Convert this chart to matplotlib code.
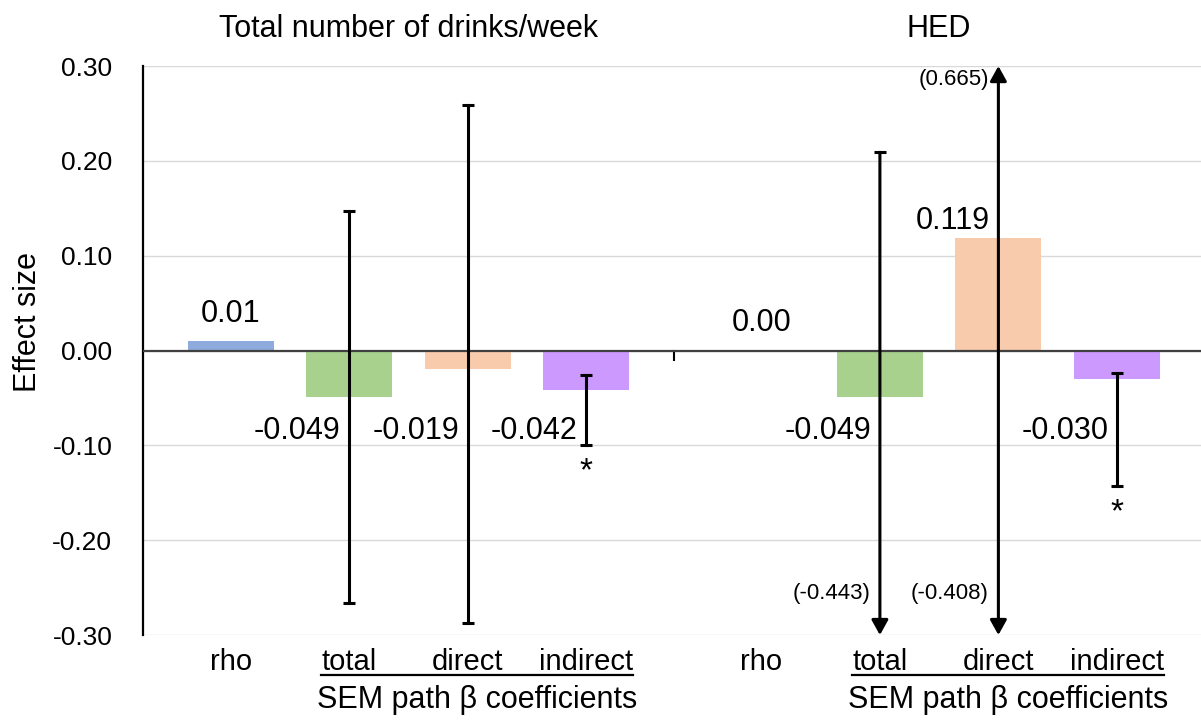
import matplotlib
matplotlib.use("Agg")
import matplotlib.pyplot as plt
import matplotlib.transforms as mtransforms
from matplotlib.lines import Line2D
import numpy as np

plt.rcParams['font.family'] = ['Liberation Sans Narrow', 'Liberation Sans', 'DejaVu Sans']

# Data
group_titles = ["Total number of drinks/week", "HED"]
categories = ["rho", "total", "direct", "indirect"]
effect_drinks = [0.01, -0.049, -0.019, -0.042]
effect_hed = [0.00, -0.049, 0.119, -0.030]
labels_drinks = ["0.01", "-0.049", "-0.019", "-0.042"]
labels_hed = ["0.00", "-0.049", "0.119", "-0.030"]
ci_low_drinks = [np.nan, -0.266, -0.287, -0.100]
ci_high_drinks = [np.nan, 0.147, 0.259, -0.026]
ci_low_hed = [np.nan, -0.443, -0.408, -0.143]
ci_high_hed = [np.nan, 0.209, 0.665, -0.024]
signif_drinks = [False, False, False, True]
signif_hed = [False, False, False, True]
colors = ["#8faadc", "#a9d18e", "#f8cbad", "#cc99ff"]
sem_label = "SEM path β coefficients"

YMIN, YMAX = -0.30, 0.30
GAP = 0.48
NEG_Y = -0.085
BIG = 22  # value labels, titles

groups = [
    (effect_drinks, labels_drinks, ci_low_drinks, ci_high_drinks, signif_drinks),
    (effect_hed, labels_hed, ci_low_hed, ci_high_hed, signif_hed),
]

fig = plt.figure(figsize=(12.01, 7.2), dpi=100)
ax = fig.add_axes([0.119, 0.118, 0.881, 0.7903])
blend = mtransforms.blended_transform_factory(ax.transData, ax.transAxes)

arrow_kw = dict(color='k', lw=2.2, shrinkA=0, shrinkB=0, mutation_scale=20)

all_pos = []
for g, (vals, labs, lo, hi, sig) in enumerate(groups):
    pos = np.arange(len(categories)) + g * (len(categories) + GAP)
    all_pos.append(pos)
    ax.bar(pos, vals, width=0.725, color=colors, zorder=2)

    for x, v, lab, l, h, s in zip(pos, vals, labs, lo, hi, sig):
        has_ci = not np.isnan(l)
        # error bars, with arrows where the interval runs off the axis
        if has_ci:
            lc, hc = max(l, YMIN), min(h, YMAX)
            if l < YMIN and h > YMAX:
                ax.annotate('', xy=(x, YMIN), xytext=(x, YMAX),
                            arrowprops=dict(arrowstyle='<|-|>,head_length=0.45,head_width=0.25', **arrow_kw),
                            zorder=4, annotation_clip=False)
            elif l < YMIN:
                ax.annotate('', xy=(x, YMIN), xytext=(x, hc),
                            arrowprops=dict(arrowstyle='-|>,head_length=0.45,head_width=0.25', **arrow_kw),
                            zorder=4, annotation_clip=False)
            elif h > YMAX:
                ax.annotate('', xy=(x, YMAX), xytext=(x, lc),
                            arrowprops=dict(arrowstyle='-|>,head_length=0.45,head_width=0.25', **arrow_kw),
                            zorder=4, annotation_clip=False)
            else:
                ax.plot([x, x], [l, h], color='k', lw=2.2, zorder=4)
            for end, clipped in ((l, l < YMIN), (h, h > YMAX)):
                if not clipped:
                    ax.plot(x, end, marker='_', ms=9, mew=2.2, color='k', zorder=4)
            if l < YMIN:
                ax.annotate(f"({l:.3f})", (x, YMIN), xytext=(-7, 22), textcoords='offset points',
                            ha='right', va='bottom', fontsize=16)
            if h > YMAX:
                ax.annotate(f"({h:.3f})", (x, YMAX), xytext=(-7, -2), textcoords='offset points',
                            ha='right', va='top', fontsize=16)
            if s:
                ax.annotate('*', (x, l), xytext=(0, -8), textcoords='offset points',
                            ha='center', va='top', fontsize=24)

        # value labels
        ha = 'right' if has_ci else 'center'
        dx = -6 if has_ci else 0
        if v < 0:
            ax.annotate(lab, (x, NEG_Y), xytext=(dx, 0), textcoords='offset points',
                        ha=ha, va='center', fontsize=BIG, zorder=5)
        else:
            dy = 6 if has_ci else 14
            ax.annotate(lab, (x, v), xytext=(dx, dy), textcoords='offset points',
                        ha=ha, va='baseline', fontsize=BIG, zorder=5)

    ax.text(pos.mean(), 1.065, group_titles[g], transform=blend,
            ha='center', va='center', fontsize=BIG)

all_pos = np.concatenate(all_pos)
sep = (all_pos[3] + all_pos[4]) / 2
ax.plot([sep, sep], [0, -0.01], color='k', lw=1.5, zorder=3)

ax.axhline(0, color='#404040', lw=1.6, zorder=3)
ax.set_xlim(-0.74, 8.19)
ax.set_ylim(YMIN, YMAX)
ax.set_yticks(np.arange(-3, 4) / 10)
ax.set_yticklabels([f"{t:.2f}" for t in np.arange(-3, 4) / 10])
ax.set_xticks(all_pos)
ax.set_xticklabels(categories * 2)
ax.tick_params(axis='y', length=0, pad=22, labelsize=19)
ax.tick_params(axis='x', length=0, pad=9, labelsize=21)
ax.yaxis.grid(True, color='#d9d9d9', lw=1)
ax.set_axisbelow(True)
for sp in ['top', 'right', 'bottom']:
    ax.spines[sp].set_visible(False)
ax.spines['left'].set_linewidth(1.6)
ax.spines['left'].set_color('k')
ax.set_ylabel("Effect size", fontsize=22)
ax.yaxis.set_label_coords(-0.094, 0.55)

# underline under the SEM path labels, then the caption below it
fig.canvas.draw()
r = fig.canvas.get_renderer()
ticklabels = ax.get_xticklabels()
W, H = fig.get_size_inches() * fig.dpi
for g in range(2):
    b0 = ticklabels[4 * g + 1].get_window_extent(r)
    b1 = ticklabels[4 * g + 3].get_window_extent(r)
    y = b0.y0 + 1
    fig.add_artist(Line2D([b0.x0 / W, b1.x1 / W], [y / H, y / H],
                          transform=fig.transFigure, color='k', lw=1.6))
    fig.text((b0.x0 + b1.x1) / 2 / W, (y - 25) / H, sem_label,
             ha='center', va='center', fontsize=BIG)

fig.savefig("out.png", dpi=100)
